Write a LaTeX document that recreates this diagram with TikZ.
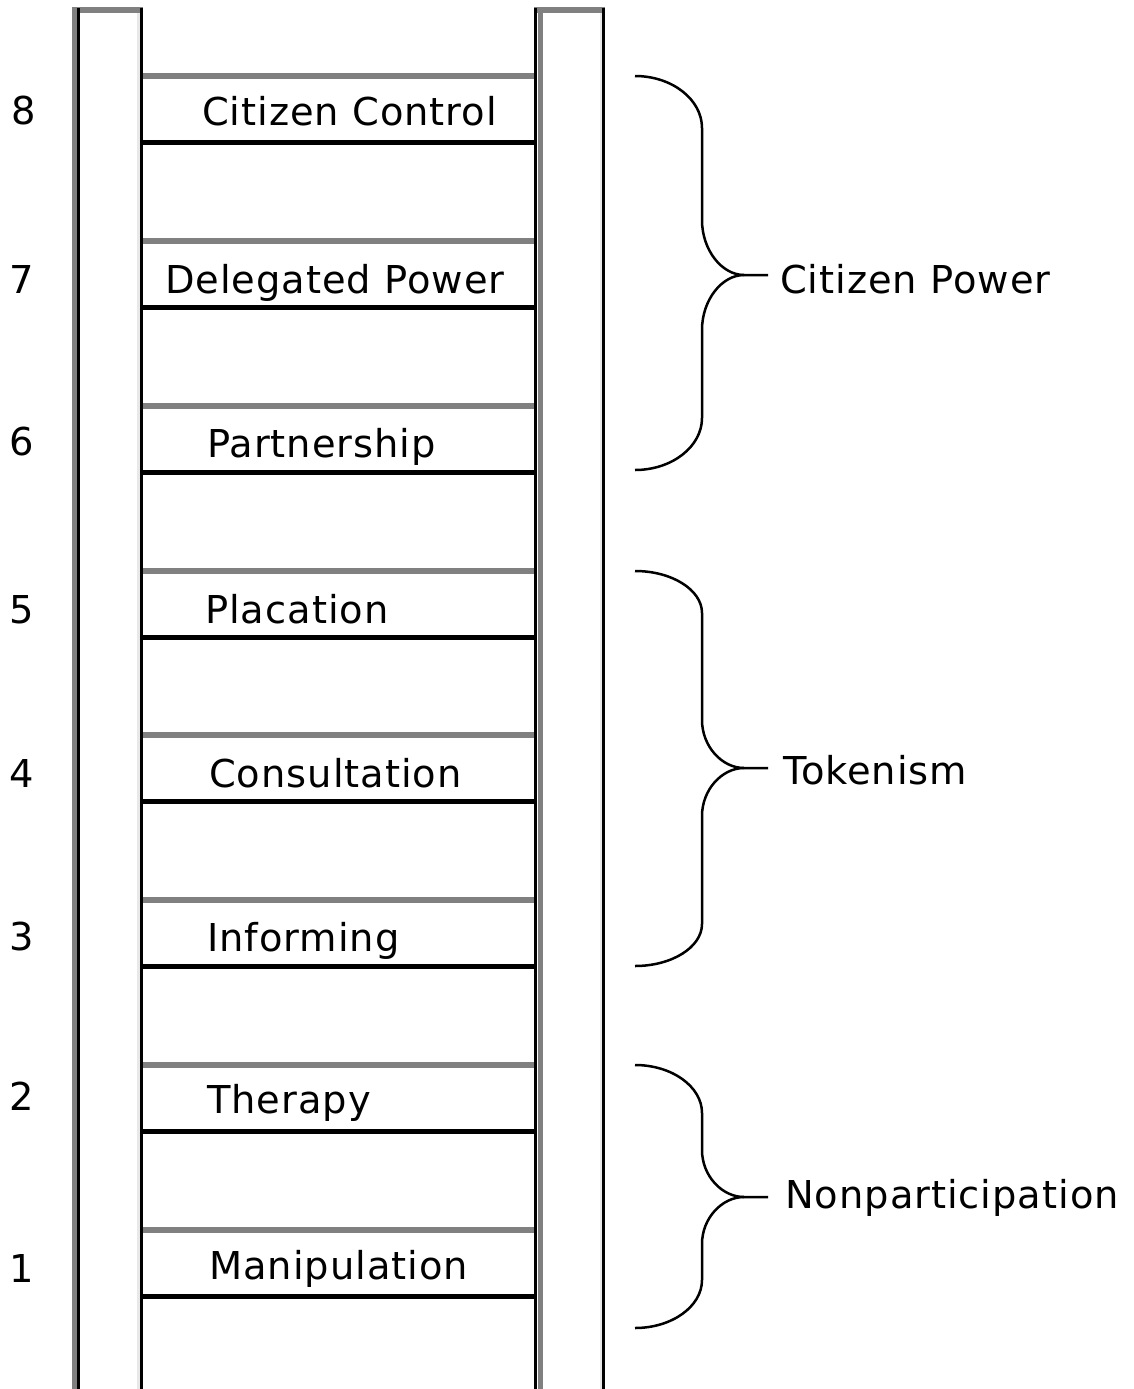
\documentclass[tikz,border=0pt]{standalone}
\usepackage{fontspec}
\setmainfont{DejaVu Sans}[LetterSpace=2.5]
\definecolor{rg}{RGB}{128,128,128}
\definecolor{rl}{RGB}{232,232,232}
\newcommand\ladbrace[6]{%
  \coordinate (#6) at (768,#2);
  \draw[brc] (635,#1) .. controls (672,#1) and (702,{#1+#4*0.45}) .. (702,{#1+#4})
     -- (702,{#2-#5}) .. controls (702,{#2-#5*0.45}) and (722,#2) .. (744,#2) -- (#6);
  \draw[brc] (744,#2) .. controls (722,#2) and (702,{#2+#5*0.45}) .. (702,{#2+#5})
     -- (702,{#3-#4}) .. controls (702,{#3-#4*0.45}) and (672,#3) .. (635,#3);
}
\begin{document}
\begin{tikzpicture}[x=1pt,y=-1pt,
  lbl/.style={anchor=base west, inner sep=0pt, font=\fontsize{38.4}{46}\selectfont},
  num/.style={anchor=base, inner sep=0pt, font=\fontsize{38.4}{46}\selectfont},
  railk/.style={draw=black, line width=3pt},
  railg/.style={draw=rg, line width=5pt},
  raill/.style={draw=rl, line width=3pt},
  rungg/.style={draw=rg, line width=6pt},
  rungk/.style={draw=black, line width=5pt},
  brc/.style={draw=black, line width=2.5pt}]
\useasboundingbox (0,0) rectangle (1133,1389);
% rungs
\foreach \k in {0,...,7}{
  \draw[rungg] (142,{76+\k*164.86}) -- (536,{76+\k*164.86});
  \draw[rungk] (142,{142.5+\k*164.86}) -- (536,{142.5+\k*164.86});
}
% left rail
\draw[rungg] (72,10) -- (143,10);
\draw[railg] (74.5,8) -- (74.5,1389);
\draw[railk] (78.5,8) -- (78.5,1389);
\draw[raill] (138.5,13) -- (138.5,1389);
\draw[railk] (141.5,8) -- (141.5,1389);
% right rail
\draw[rungg] (534,10) -- (605,10);
\draw[railk] (535.5,8) -- (535.5,1389);
\draw[railg] (540.5,13) -- (540.5,1389);
\draw[raill] (601,13) -- (601,1389);
\draw[railk] (603.5,8) -- (603.5,1389);
% rung labels
\node[lbl] (l8) at (202,125) {Citizen Control};
\node[lbl] (l7) at (165,293) {Delegated Power};
\node[lbl] (l6) at (207,457) {Partnership};
\node[lbl] (l5) at (205,623) {Placation};
\node[lbl] (l4) at (209,787) {Consultation};
\node[lbl] (l3) at (207,951) {Informing};
\node[lbl] (l2) at (207,1113) {Therapy};
\node[lbl] (l1) at (209,1279) {Manipulation};
% numbers
\node[num] (n8) at (24,124) {8};
\node[num] (n7) at (22,293) {7};
\node[num] (n6) at (22,455) {6};
\node[num] (n5) at (22,623) {5};
\node[num] (n4) at (22,787) {4};
\node[num] (n3) at (22,950) {3};
\node[num] (n2) at (22,1110) {2};
\node[num] (n1) at (22,1282) {1};
% braces
\ladbrace{76}{275}{470}{52}{55}{tipA}
\ladbrace{571}{768}{966}{42}{48}{tipB}
\ladbrace{1065}{1197}{1328}{48}{47}{tipC}
\node[lbl] (g1) at (780,293) {Citizen Power};
\node[lbl] (g2) at (783,784) {Tokenism};
\node[lbl] (g3) at (785,1208) {Nonparticipation};
\end{tikzpicture}
\end{document}
